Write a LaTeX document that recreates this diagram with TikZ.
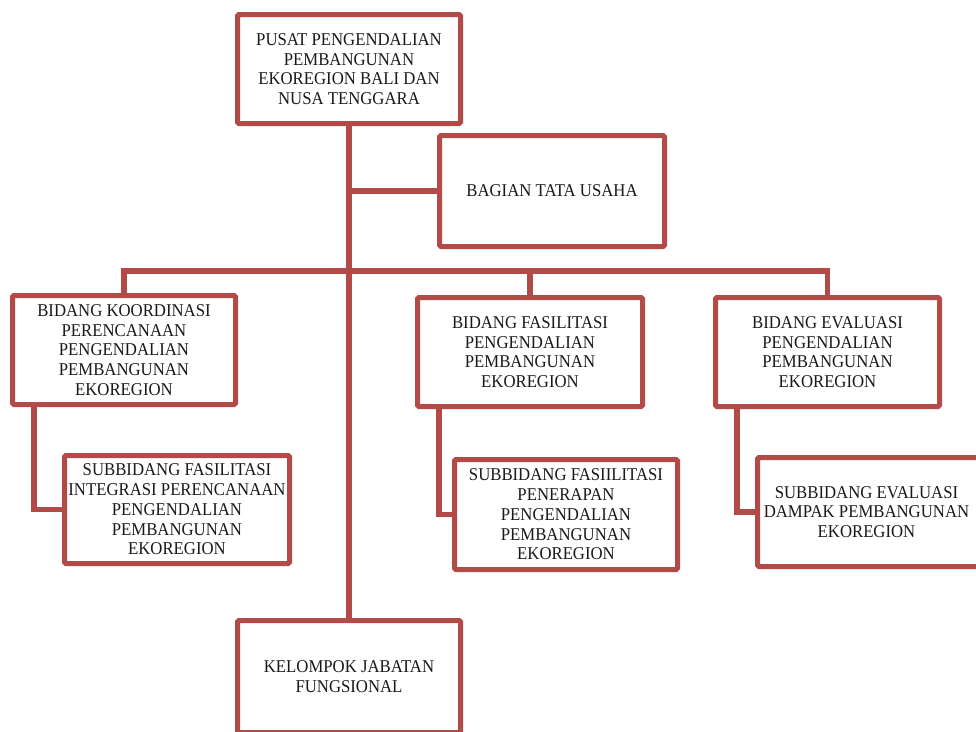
\documentclass[tikz,border=0pt]{standalone}
\usepackage{fontspec}
\setmainfont{Liberation Serif}[FakeStretch=0.93]
\definecolor{brd}{RGB}{178,74,72}
\definecolor{txt}{RGB}{25,25,25}
\begin{document}
\begin{tikzpicture}[x=1pt,y=-1pt,
  orgbox/.style={draw=brd, line width=5pt, fill=white, rounded corners=1.5pt,
    align=center, text=txt, inner sep=0pt,
    font=\fontsize{18}{19.7}\selectfont},
  conn/.style={draw=brd, line width=5.5pt}]
\useasboundingbox (0,0) rectangle (976,731);
\clip (0,0) rectangle (976,731);
\fill[white] (0,0) rectangle (976,731);

\node[orgbox, minimum width=223, minimum height=109] (top) at (349,69)
  {PUSAT PENGENDALIAN\\PEMBANGUNAN\\EKOREGION BALI DAN\\NUSA TENGGARA};
\node[orgbox, minimum width=225, minimum height=111] (tu) at (552,191)
  {BAGIAN TATA USAHA};
\node[orgbox, minimum width=223, minimum height=109] (bk) at (124,350)
  {BIDANG KOORDINASI\\PERENCANAAN\\PENGENDALIAN\\PEMBANGUNAN\\EKOREGION};
\node[orgbox, minimum width=225, minimum height=108] (sk) at (177,509.5)
  {SUBBIDANG FASILITASI\\INTEGRASI PERENCANAAN\\PENGENDALIAN\\PEMBANGUNAN\\EKOREGION};
\node[orgbox, minimum width=225, minimum height=109] (bf) at (530,352)
  {BIDANG FASILITASI\\PENGENDALIAN\\PEMBANGUNAN\\EKOREGION};
\node[orgbox, minimum width=223, minimum height=110] (sf) at (566,514.5)
  {SUBBIDANG FASIILITASI\\PENERAPAN\\PENGENDALIAN\\PEMBANGUNAN\\EKOREGION};
\node[orgbox, minimum width=224, minimum height=109] (be) at (827.5,352)
  {BIDANG EVALUASI\\PENGENDALIAN\\PEMBANGUNAN\\EKOREGION};
\node[orgbox, minimum width=226, minimum height=109] (se) at (870.5,512)
  {\hspace*{-8pt}SUBBIDANG EVALUASI\\\hspace*{-8pt}DAMPAK PEMBANGUNAN\\\hspace*{-8pt}EKOREGION};
\node[orgbox, minimum width=223, minimum height=112] (kj) at (349,676.5)
  {KELOMPOK JABATAN\\FUNGSIONAL};

\coordinate (hb) at (349,271);
\draw[conn] (top.south) -- (kj.north);
\draw[conn] (top.south |- tu.west) -- (tu.west);
\draw[conn] (bk.north) |- (hb) -| (be.north);
\draw[conn] (bf.north) -- (bf.north |- hb);
\draw[conn] ([xshift=-90pt]bk.south) |- (sk.west);
\draw[conn] ([xshift=-91pt]bf.south) |- (sf.west);
\draw[conn] ([xshift=-90.5pt]be.south) |- (se.west);
\end{tikzpicture}
\end{document}
